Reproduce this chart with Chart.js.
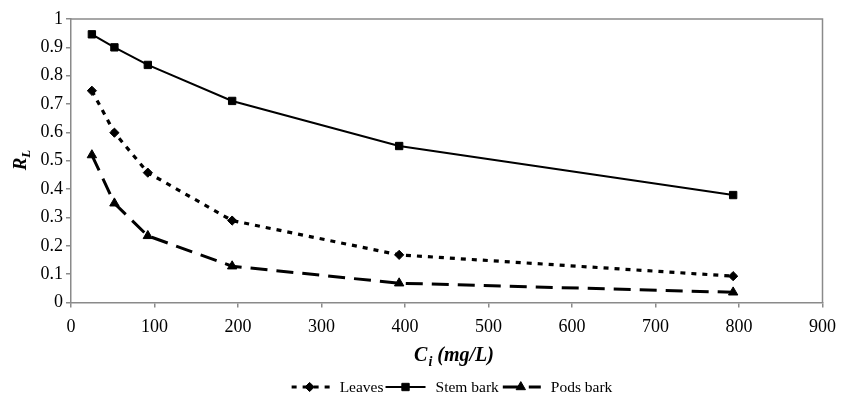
<!DOCTYPE html>
<html>
<head>
<meta charset="utf-8">
<script src="https://cdn.jsdelivr.net/npm/chart.js@4/dist/chart.umd.min.js"></script>
<style>
  html, body { margin: 0; padding: 0; background: #fff; }
  #wrap { position: relative; width: 841px; height: 393px; }
</style>
</head>
<body>
<div id="wrap"><canvas id="rl"></canvas></div>
<script>
// Initial concentration Ci (mg/L)
const ci = [25, 52, 92, 193, 393, 793];
// Separation factor RL for each adsorbent
const leaves = [0.747, 0.599, 0.458, 0.289, 0.168, 0.093];
const stemBark = [0.946, 0.900, 0.838, 0.711, 0.552, 0.379];
const podsBark = [0.520, 0.350, 0.235, 0.128, 0.068, 0.036];
// Axis tick labels
const xTickLabels = ['0', '100', '200', '300', '400', '500', '600', '700', '800', '900'];
const yTickLabels = ['0', '0.1', '0.2', '0.3', '0.4', '0.5', '0.6', '0.7', '0.8', '0.9', '1'];
const seriesNames = ['Leaves', 'Stem bark', 'Pods bark'];

const FONT = "'Liberation Serif', 'Times New Roman', serif";
const AXIS_GREY = '#8a8a8a';

const toPoints = (ys) => ys.map((y, i) => ({ x: ci[i], y }));

// Box around the plot area (top and right edges)
const frame = {
  id: 'frame',
  afterDraw(chart) {
    const { ctx, chartArea: a } = chart;
    ctx.save();
    ctx.strokeStyle = AXIS_GREY;
    ctx.lineWidth = 1.5;
    ctx.beginPath();
    ctx.moveTo(a.left, a.top);
    ctx.lineTo(a.right, a.top);
    ctx.lineTo(a.right, a.bottom);
    ctx.stroke();
    ctx.restore();
  }
};

// Axis titles with subscripts
const axisTitles = {
  id: 'axisTitles',
  afterDraw(chart) {
    const ctx = chart.ctx;
    ctx.save();
    ctx.fillStyle = '#000';
    ctx.textBaseline = 'alphabetic';
    ctx.textAlign = 'left';

    // x title: C_i (mg/L)
    const big = 'italic bold 20px ' + FONT;
    const sub = 'italic bold 14px ' + FONT;
    ctx.font = big; const wC = ctx.measureText('C').width;
    ctx.font = sub; const wi = ctx.measureText('i').width;
    ctx.font = big; const wRest = ctx.measureText(' (mg/L)').width;
    const total = wC + 1 + wi + wRest;
    let x = 454 - total / 2;
    const base = 361;
    ctx.font = big; ctx.fillText('C', x, base); x += wC + 1;
    ctx.font = sub; ctx.fillText('i', x, base + 5); x += wi;
    ctx.font = big; ctx.fillText(' (mg/L)', x, base);

    // y title: R_L, rotated
    ctx.translate(26, 160);
    ctx.rotate(-Math.PI / 2);
    const bigY = 'italic bold 19px ' + FONT;
    const subY = 'italic bold 13px ' + FONT;
    ctx.font = bigY; const wR = ctx.measureText('R').width;
    ctx.font = subY; const wL = ctx.measureText('L').width;
    let yx = -(wR + wL) / 2;
    ctx.font = bigY; ctx.fillText('R', yx, 0); yx += wR;
    ctx.font = subY; ctx.fillText('L', yx, 4);
    ctx.restore();
  }
};

// Legend showing each series' line style with its marker
const lineLegend = {
  id: 'lineLegend',
  afterDraw(chart) {
    const ctx = chart.ctx;
    const sampleW = 40, gapText = 10, gapItem = 2, cy = 387;
    ctx.save();
    ctx.font = '15.5px ' + FONT;
    const widths = chart.data.datasets.map(ds => sampleW + gapText + ctx.measureText(ds.label).width);
    const total = widths.reduce((s, w) => s + w, 0) + gapItem * (widths.length - 1);
    let x = 451 - total / 2;
    chart.data.datasets.forEach((ds, i) => {
      ctx.save();
      ctx.strokeStyle = ds.borderColor;
      ctx.lineWidth = ds.borderWidth;
      ctx.setLineDash(ds.borderDash || []);
      ctx.lineDashOffset = ds.borderDash ? -2 : 0;
      ctx.beginPath();
      ctx.moveTo(x, cy);
      ctx.lineTo(x + sampleW, cy);
      ctx.stroke();
      ctx.restore();
      ctx.save();
      ctx.fillStyle = ds.pointBackgroundColor;
      ctx.strokeStyle = ds.pointBorderColor;
      Chart.helpers.drawPoint(ctx, {
        pointStyle: ds.pointStyle,
        radius: ds.pointRadius,
        rotation: 0,
        borderWidth: ds.pointBorderWidth
      }, x + sampleW / 2, cy);
      ctx.restore();
      ctx.fillStyle = '#000';
      ctx.textBaseline = 'middle';
      ctx.textAlign = 'left';
      ctx.fillText(ds.label, x + sampleW + gapText, cy + 1);
      x += widths[i] + gapItem;
    });
    ctx.restore();
  }
};

new Chart(document.getElementById('rl'), {
  type: 'line',
  data: {
    datasets: [
      {
        label: seriesNames[0],
        data: toPoints(leaves),
        borderColor: '#000',
        borderWidth: 3.2,
        borderDash: [5, 6],
        pointStyle: 'rectRot',
        pointRadius: 4.6,
        pointBackgroundColor: '#000',
        pointBorderColor: '#000',
        pointBorderWidth: 1
      },
      {
        label: seriesNames[1],
        data: toPoints(stemBark),
        borderColor: '#000',
        borderWidth: 2,
        pointStyle: 'rect',
        pointRadius: 5.2,
        pointBackgroundColor: '#000',
        pointBorderColor: '#000',
        pointBorderWidth: 1
      },
      {
        label: seriesNames[2],
        data: toPoints(podsBark),
        borderColor: '#000',
        borderWidth: 3,
        borderDash: [17, 9],
        pointStyle: 'triangle',
        pointRadius: 5.4,
        pointBackgroundColor: '#000',
        pointBorderColor: '#000',
        pointBorderWidth: 1
      }
    ]
  },
  options: {
    responsive: true,
    maintainAspectRatio: false,
    animation: false,
    layout: { padding: { top: 19, right: 18.5, left: 0, bottom: 0 } },
    plugins: {
      legend: { display: false },
      tooltip: { enabled: false }
    },
    elements: { line: { tension: 0 } },
    scales: {
      x: {
        type: 'linear',
        min: 0,
        max: 900,
        afterFit(scale) {
          scale.height = 90.5;
          // end labels fit inside the layout padding
          scale.paddingLeft = 0;
          scale.paddingRight = 0;
        },
        afterBuildTicks(scale) {
          scale.ticks = xTickLabels.map(t => ({ value: Number(t) }));
        },
        ticks: {
          color: '#000',
          font: { family: FONT, size: 18 },
          padding: 9,
          maxRotation: 0,
          autoSkip: false,
          callback: (v, i) => xTickLabels[i]
        },
        grid: {
          display: true,
          drawOnChartArea: false,
          drawTicks: true,
          tickLength: 5,
          color: AXIS_GREY,
          lineWidth: 1.5
        },
        border: { display: true, color: AXIS_GREY, width: 1.5 }
      },
      y: {
        type: 'linear',
        min: 0,
        max: 1,
        afterFit(scale) { scale.width = 71; },
        afterBuildTicks(scale) {
          scale.ticks = yTickLabels.map(t => ({ value: Number(t) }));
        },
        ticks: {
          color: '#000',
          font: { family: FONT, size: 18 },
          padding: 3,
          autoSkip: false,
          callback: (v, i) => yTickLabels[i]
        },
        grid: {
          display: true,
          drawOnChartArea: false,
          drawTicks: true,
          tickLength: 5,
          color: AXIS_GREY,
          lineWidth: 1.5
        },
        border: { display: true, color: AXIS_GREY, width: 1.5 }
      }
    }
  },
  plugins: [frame, axisTitles, lineLegend]
});
</script>
</body>
</html>
